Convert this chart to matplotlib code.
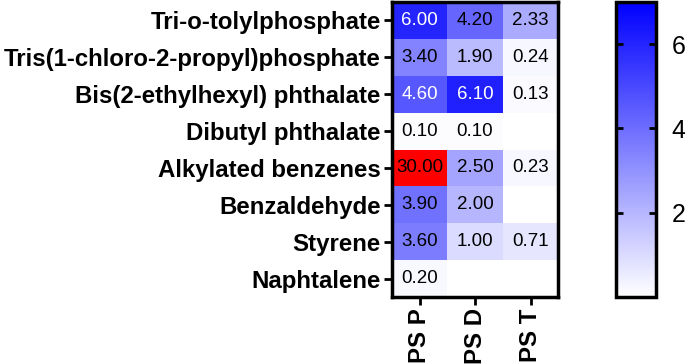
import numpy as np
import matplotlib
matplotlib.use("Agg")
import matplotlib.pyplot as plt
from matplotlib.colors import LinearSegmentedColormap, Normalize

rows = ["Tri-o-tolylphosphate", "Tris(1-chloro-2-propyl)phosphate",
        "Bis(2-ethylhexyl) phthalate", "Dibutyl phthalate",
        "Alkylated benzenes", "Benzaldehyde", "Styrene", "Naphtalene"]
cols = ["PS P", "PS D", "PS T"]
ps_p = [6.00, 3.40, 4.60, 0.10, 30.00, 3.90, 3.60, 0.20]
ps_d = [4.20, 1.90, 6.10, 0.10, 2.50, 2.00, 1.00, np.nan]
ps_t = [2.33, 0.24, 0.13, np.nan, 0.23, np.nan, 0.71, np.nan]
cbar_ticks = [2, 4, 6]

plt.rcParams['font.family'] = ['Liberation Sans', 'DejaVu Sans']

data = np.ma.masked_invalid(np.array([ps_p, ps_d, ps_t]).T)
cmap = LinearSegmentedColormap.from_list("wb", ["#FFFFFF", "#0000FF"])
cmap.set_over("#FF0000")
cmap.set_bad("#FFFFFF")
norm = Normalize(vmin=0, vmax=7)

fig = plt.figure(figsize=(6.85, 3.64), dpi=100)
ax = fig.add_axes([0.572, 0.184, 0.243, 0.8105])
mesh = ax.pcolormesh(np.arange(len(cols) + 1), np.arange(len(rows) + 1), data,
                     cmap=cmap, norm=norm)
ax.set_xlim(0, len(cols))
ax.set_ylim(len(rows), 0)
ax.set_yticks(np.arange(len(rows)) + 0.5)
ax.set_yticklabels(rows, fontsize=17.3, fontweight='bold')
ax.set_xticks(np.arange(len(cols)) + 0.5)
ax.set_xticklabels(cols, fontsize=17.3, fontweight='bold', rotation=90)
ax.tick_params(axis='both', length=6, width=2, pad=2)
for s in ax.spines.values():
    s.set_linewidth(2.5)

for i in range(len(rows)):
    for j in range(len(cols)):
        v = data[i, j]
        if np.ma.is_masked(v):
            continue
        color = 'white' if (v >= 4.5 and v <= 7) else 'black'
        ax.text(j + 0.5, i + 0.5, f"{v:.2f}", ha='center', va='center',
                fontsize=13.5, color=color)

cax = fig.add_axes([0.899, 0.184, 0.059, 0.8105])
cb = fig.colorbar(mesh, cax=cax, extend='neither')
cb.set_ticks(cbar_ticks)
cb.ax.tick_params(labelsize=18, length=5, width=2, direction='in', left=True, right=True, pad=11)
cb.outline.set_linewidth(2.5)

fig.savefig("out.png", dpi=100)
